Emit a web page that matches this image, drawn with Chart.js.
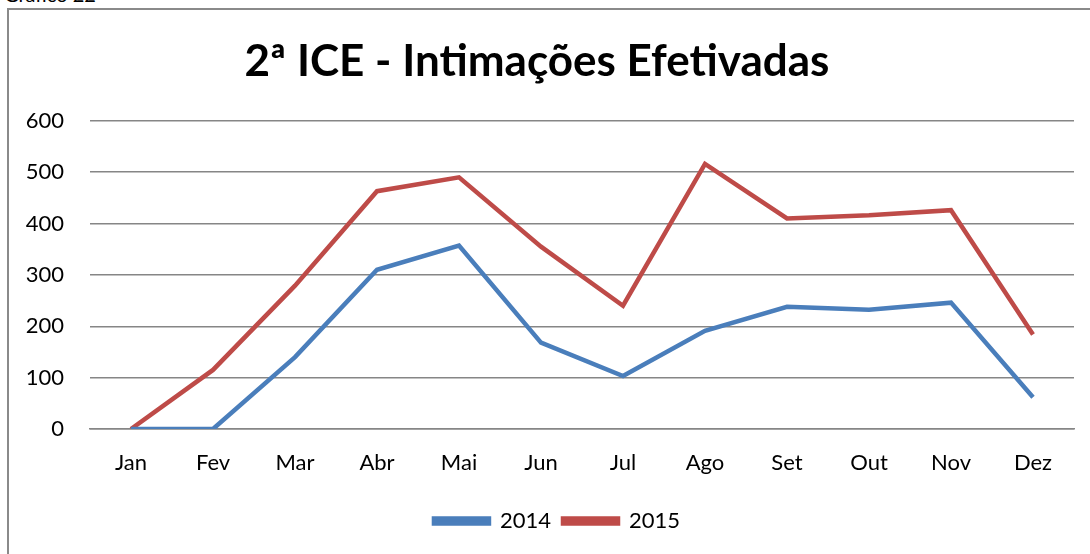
<!DOCTYPE html>
<html lang="pt">
<head>
<meta charset="UTF-8">
<title>2ª ICE - Intimações Efetivadas</title>
<style>
  html, body { margin: 0; padding: 0; background: #fff; overflow: hidden; }
  #wrap { position: relative; width: 1090px; height: 554px; }
  #caption { position: absolute; left: 4px; top: -18px; font: 20px Lato, sans-serif; color: #000; }
  #frame { position: absolute; left: 7px; top: 8px; width: 1200px; height: 700px; border: 2px solid #8a8a8a; box-sizing: border-box; }
  canvas { position: absolute; left: 0; top: 0; }
</style>
</head>
<body>
<div id="wrap">
  <div id="caption">Gráfico 22</div>
  <div id="frame"></div>
  <canvas id="myChart" width="1090" height="554"></canvas>
</div>

<script src="https://cdn.jsdelivr.net/npm/chart.js"></script>
<script>
  // dados
  var meses = ["Jan", "Fev", "Mar", "Abr", "Mai", "Jun", "Jul", "Ago", "Set", "Out", "Nov", "Dez"];
  var serie2014 = [0, 0, 140, 310, 357, 168, 103, 191, 238, 232, 246, 62];
  var serie2015 = [0, 115, 279, 463, 490, 355, 240, 516, 410, 416, 426, 184];
  var ticksY = [0, 100, 200, 300, 400, 500, 600];

  var fonte = "Lato, 'Open Sans', sans-serif";

  // legenda um pouco deslocada para a direita, como no original
  var moveLegenda = {
    id: 'moveLegenda',
    afterLayout: function (chart) {
      chart.legend.left += 20;
      chart.legend.right += 20;
    }
  };

  var ctx = document.getElementById("myChart").getContext("2d");
  var grafico = new Chart(ctx, {
    type: 'line',
    data: {
      labels: meses,
      datasets: [{
        label: "2014",
        data: serie2014,
        borderColor: '#4a7ebb',
        backgroundColor: '#4a7ebb',
        borderWidth: 4.5,
        pointRadius: 0,
        tension: 0
      }, {
        label: "2015",
        data: serie2015,
        borderColor: '#be4b48',
        backgroundColor: '#be4b48',
        borderWidth: 4.5,
        pointRadius: 0,
        tension: 0
      }]
    },
    plugins: [moveLegenda],
    options: {
      responsive: false,
      animation: false,
      layout: { padding: { left: 0, right: 16, top: 0, bottom: 12 } },
      plugins: {
        tooltip: { enabled: false },
        title: {
          display: true,
          text: "2ª ICE - Intimações Efetivadas",
          color: '#000',
          font: { family: fonte, size: 44, weight: 'bold' },
          padding: { top: 35, bottom: 33 }
        },
        legend: {
          position: 'bottom',
          labels: {
            color: '#000',
            font: { family: fonte, size: 22 },
            boxWidth: 55,
            boxHeight: 5,
            padding: 12
          }
        }
      },
      scales: {
        x: {
          offset: true,
          grid: { display: false, drawTicks: false },
          border: { display: true, color: '#868686', width: 1.5 },
          ticks: { color: '#000', font: { family: fonte, size: 22 }, padding: 21, maxRotation: 0 },
          afterFit: function (s) { s.height = 69; }
        },
        y: {
          min: 0,
          max: 600,
          afterBuildTicks: function (s) { s.ticks = ticksY.map(function (v) { return { value: v }; }); },
          grid: { color: '#868686', lineWidth: 1.5, drawTicks: false },
          border: { display: false },
          ticks: { color: '#000', font: { family: fonte, size: 22 }, padding: 26 },
          afterFit: function (s) { s.width = 90; }
        }
      }
    }
  });
</script>
</body>
</html>
